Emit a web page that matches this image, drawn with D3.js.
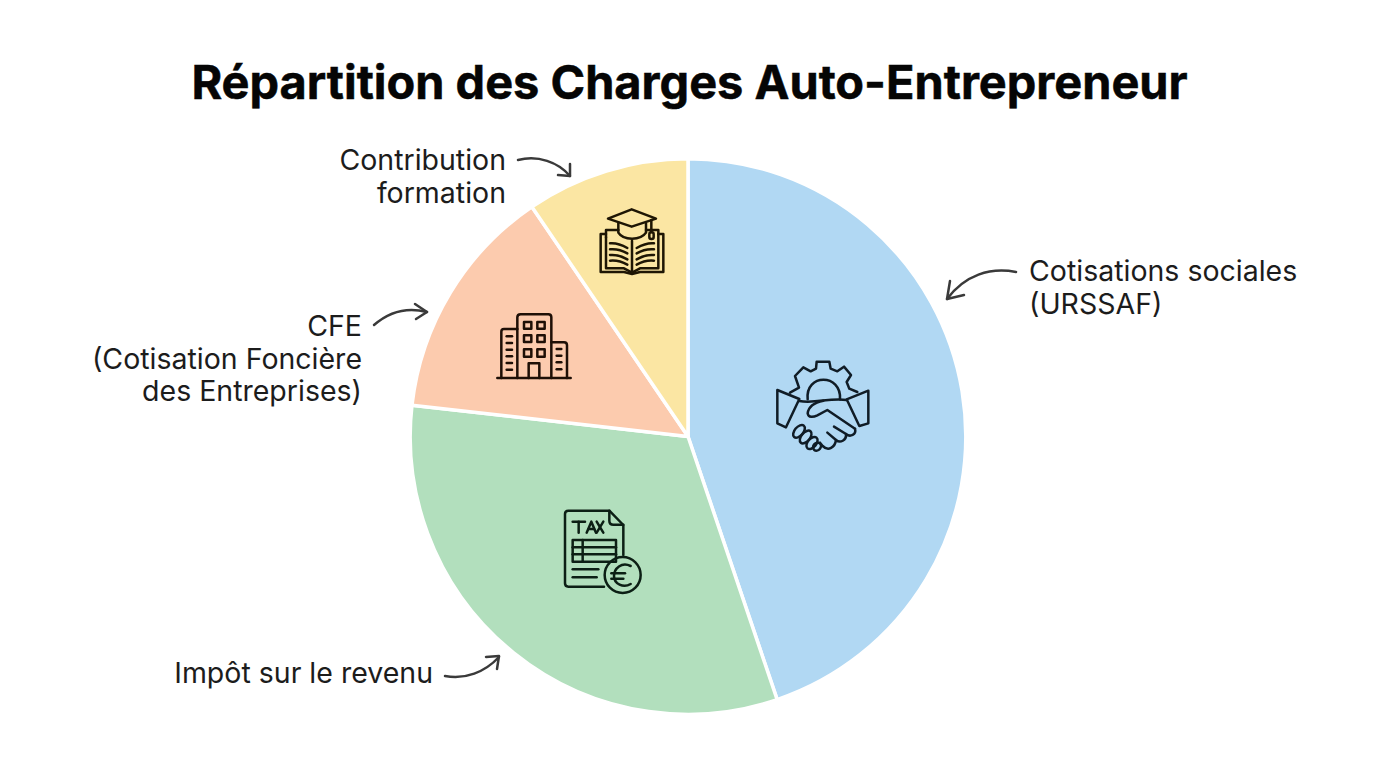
<!DOCTYPE html>
<html><head><meta charset="utf-8">
<script src="https://cdnjs.cloudflare.com/ajax/libs/d3/7.8.5/d3.min.js"></script>
<style>html,body{margin:0;background:#fff}svg{display:block}</style></head>
<body><svg id="c" width="1376" height="768"></svg>
<script>
const categories=["Cotisations sociales (URSSAF)","Impôt sur le revenu","CFE (Cotisation Foncière des Entreprises)","Contribution formation"];
const values=[44.8,32,13.7,9.5];
const colors=["#b1d8f3","#b2dfbd","#fccbae","#fbe6a3"];
const titleText="Répartition des Charges Auto-Entrepreneur";
const labelLines=[["Cotisations sociales","(URSSAF)"],["Impôt sur le revenu"],["CFE","(Cotisation Foncière","des Entreprises)"],["Contribution","formation"]];
const labelAnchor=[[1029,281,"start"],[433,683,"end"],[362,336,"end"],[506,170,"end"]];
const arrows=[
 {d:"M1016,272 C990,267 965,275 947,299",h:"M950,281 L947,299 L964,295"},
 {d:"M445,676 C465,680 485,672 499,657",h:"M486,657 L499,656 L497,669"},
 {d:"M374,325 C390,311 408,307 427,312",h:"M415,304 L427,312 L416,319"},
 {d:"M518,160 C538,155 558,162 570,176",h:"M558,175 L570,176 L570,164"}];
const svg=d3.select("#c");
const cx=688,cy=436.5,R=277.8;
svg.append("text").attr("x",689.5).attr("y",99).attr("text-anchor","middle")
 .style("font","700 46.9px Inter, sans-serif").attr("stroke","#050505").attr("stroke-width",0.5).attr("fill","#050505").text(titleText);
const pie=d3.pie().sort(null)(values);
const arc=d3.arc().innerRadius(0).outerRadius(R);
svg.append("g").attr("transform",`translate(${cx},${cy})`).selectAll("path").data(pie).join("path")
 .attr("d",arc).attr("fill",(d,i)=>colors[i]).attr("stroke","#fff").attr("stroke-width",3.5).attr("stroke-linejoin","round");
labelLines.forEach((ls,i)=>{
 const [x,y,a]=labelAnchor[i];
 const t=svg.append("text").attr("text-anchor",a).style("font","400 28.5px Inter, sans-serif").attr("fill","#1c1c1c");
 ls.forEach((l,j)=>t.append("tspan").attr("x",x).attr("y",y+j*32.5).text(l));
});
const ag=svg.append("g").attr("fill","none").attr("stroke","#3a3a3a").attr("stroke-width",2.5).attr("stroke-linecap","round").attr("stroke-linejoin","round");
arrows.forEach(a=>{ag.append("path").attr("d",a.d);ag.append("path").attr("d",a.h);});
function icon(x,y,paths,col){
 const g=svg.append("g").attr("transform",`translate(${x},${y}) scale(${1/3})`).attr("fill","none")
  .attr("stroke",col).attr("stroke-width",7.5).attr("stroke-linecap","round").attr("stroke-linejoin","round");
 paths.forEach(p=>g.append("path").attr("d",p));
 return g;
}
// handshake with gear
const hs=icon(740,340,[
 "M150,158 L177,143 L165,108 L190,82 L212,94 L228,86 L230,65 L268,65 L272,86 L292,94 L312,80 L333,105 L320,126 L328,146 L352,156",
 "M203,178 C195,100 305,100 300,178",
 "M112,150 L178,177 L138,262 L112,250 Z",
 "M385,152 L320,178 L358,258 L385,250 Z",
 "M178,183 C225,192 270,172 320,180",
 "M250,182 C222,188 205,200 203,220 C205,234 220,232 232,226 L262,210 L345,266",
 "M345,266 C350,285 330,292 318,282 L282,260",
 "M318,282 C320,302 300,310 288,300 L262,278",
 "M288,300 C285,322 265,335 248,318 L240,308"
],"#101c26");
[[177,274,30,13],[197,291,30,13],[216,309,28,13],[231,320,17,11]].forEach(([x,y,a,b])=>{
 hs.append("ellipse").attr("cx",x).attr("cy",y).attr("rx",a*0.75).attr("ry",b).attr("transform",`rotate(-50 ${x} ${y})`);
});
// tax doc
const tx=icon(540,490,[
 "M192,290 L85,290 Q75,290 75,280 L75,72 Q75,62 85,62 L208,62 L250,105 L250,195",
 "M208,62 L208,92 Q208,104 220,104 L250,104",
 "M98,150 L228,150 L228,215 L98,215 Z",
 "M98,172 L228,172","M98,193 L228,193","M128,150 L128,215",
 "M98,238 L175,238","M98,262 L170,262",
 "M98,95 L135,95","M116,95 L116,128","M140,128 L154,95 L168,128","M146,117 L162,117","M170,95 L190,128","M190,95 L170,128",
 "M272,228 C245,215 222,235 222,258 C222,282 250,295 272,282","M214,250 L255,250","M214,266 L250,266"
],"#0c1f15");
tx.append("circle").attr("cx",248).attr("cy",255).attr("r",54);
// book + cap, building
const bk=icon(480,200,[
 "M455,28 L528,56 L455,80 L384,56 Z",
 "M415,68 L415,98 C430,122 482,122 498,98 L498,70",
 "M514,60 L514,96",
 "M378,112 L378,90 L415,90","M498,90 L535,90 L535,205 L480,205 L456,218 L432,205 L378,205 L378,112",
 "M378,102 L362,102 L362,216 L432,216 L456,222 L480,216 L550,216 L550,102 L535,102",
 "M456,122 L456,218",
 "M390,130 C410,128 428,136 442,144","M390,148 C410,146 428,152 442,160","M390,165 C410,163 428,170 442,178","M390,182 C410,180 428,186 442,194",
 "M522,130 C502,128 484,136 470,144","M522,148 C502,146 484,152 470,160","M522,165 C502,163 484,170 470,178","M522,182 C502,180 484,186 470,194"
],"#1e1604");
bk.append("rect").attr("x",508).attr("y",97).attr("width",13).attr("height",20).attr("rx",6);
icon(480,200,[
 "M52,534 L272,534",
 "M112,534 L112,352 Q112,343 122,343 L205,343 Q214,343 214,352 L214,534",
 "M112,387 L72,387 Q64,387 64,395 L64,534",
 "M214,427 L252,427 Q261,427 261,436 L261,534",
 "M146,534 L146,490 L178,490 L178,534",
 "M132,366 h22 v20 h-22 Z","M172,366 h22 v20 h-22 Z","M132,406 h22 v20 h-22 Z","M172,406 h22 v20 h-22 Z","M132,448 h22 v22 h-22 Z","M172,448 h22 v22 h-22 Z",
 "M80,409 h16","M80,429 h16","M80,449 h16","M80,469 h16","M80,489 h16","M80,509 h16",
 "M230,447 h14","M230,467 h14","M230,487 h14","M230,508 h14"
],"#1e0f06");
</script></body></html>
